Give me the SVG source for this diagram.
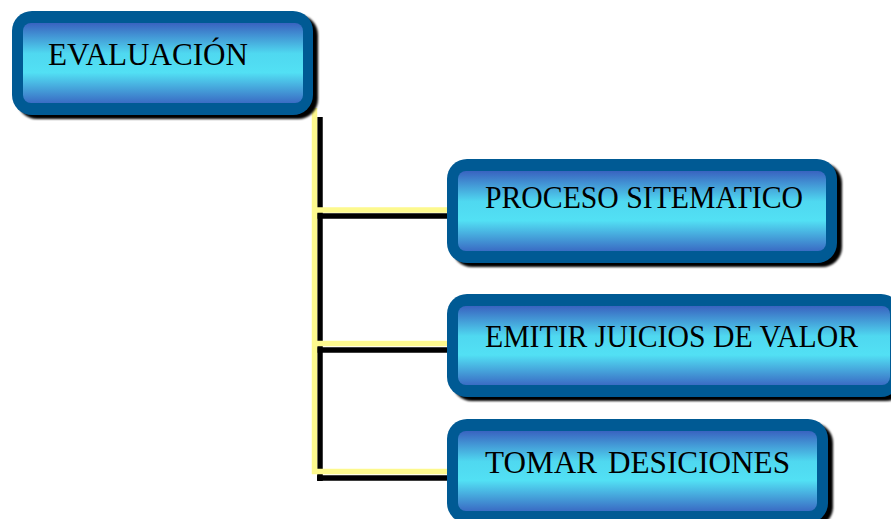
<svg xmlns="http://www.w3.org/2000/svg" width="891" height="519" viewBox="0 0 891 519">
  <defs>
    <linearGradient id="fillGrad" x1="0" y1="0" x2="0" y2="1">
      <stop offset="0" stop-color="#3963c0"/>
      <stop offset="0.38" stop-color="#4fd8f0"/>
      <stop offset="0.62" stop-color="#52e0f4"/>
      <stop offset="1" stop-color="#3a6cc4"/>
    </linearGradient>
    <filter id="soft" x="-5%" y="-5%" width="110%" height="110%">
      <feGaussianBlur stdDeviation="0.8"/>
    </filter>
  </defs>
  <style>
    .shadow { fill: #000000; filter: url(#soft); }
    .outer { fill: #005a94; }
    .inner { fill: url(#fillGrad); }
    .label { font-family: "Liberation Serif", "Times New Roman", serif; font-size: 32px; fill: #000000; }
    .ylw { stroke: #fdf98e; stroke-width: 5.5; fill: none; }
    .blk { stroke: #000000; stroke-width: 5.5; fill: none; }
  </style>
  <rect width="891" height="519" fill="#ffffff"/>

  <g id="connectors">
    <path class="blk" d="M320 117 V481 M317 216 H447 M317 350 H447 M317 478 H447"/>
    <path class="ylw" d="M314.5 108 V474 M312 210 H447 M312 343.5 H447 M312 471.5 H447"/>
  </g>

  <g id="node-evaluacion">
    <rect class="shadow" x="17" y="15" width="301" height="104" rx="20"/>
    <rect class="outer" x="12" y="11" width="301" height="104" rx="20"/>
    <rect class="inner" x="23" y="23" width="280" height="80" rx="8"/>
    <text class="label" x="48" y="65" textLength="200" lengthAdjust="spacingAndGlyphs">EVALUACIÓN</text>
  </g>

  <g id="node-proceso">
    <rect class="shadow" x="452" y="163" width="390" height="104" rx="20"/>
    <rect class="outer" x="447" y="159" width="390" height="104" rx="20"/>
    <rect class="inner" x="458" y="171" width="368" height="80" rx="8"/>
    <text class="label" x="485" y="208" textLength="318" lengthAdjust="spacingAndGlyphs">PROCESO SITEMATICO</text>
  </g>

  <g id="node-emitir">
    <rect class="shadow" x="452" y="298" width="454" height="103" rx="20"/>
    <rect class="outer" x="447" y="294" width="454" height="103" rx="20"/>
    <rect class="inner" x="458" y="306" width="432" height="79" rx="8"/>
    <text class="label" x="485" y="347" textLength="373" lengthAdjust="spacingAndGlyphs">EMITIR JUICIOS DE VALOR</text>
  </g>

  <g id="node-tomar">
    <rect class="shadow" x="452" y="423" width="381" height="104" rx="20"/>
    <rect class="outer" x="447" y="419" width="381" height="104" rx="20"/>
    <rect class="inner" x="458" y="431" width="359" height="80" rx="8"/>
    <text class="label" x="485" y="473"><tspan textLength="112" lengthAdjust="spacingAndGlyphs">TOMAR</tspan> <tspan x="608" textLength="182" lengthAdjust="spacingAndGlyphs">DESICIONES</tspan></text>
  </g>
</svg>
